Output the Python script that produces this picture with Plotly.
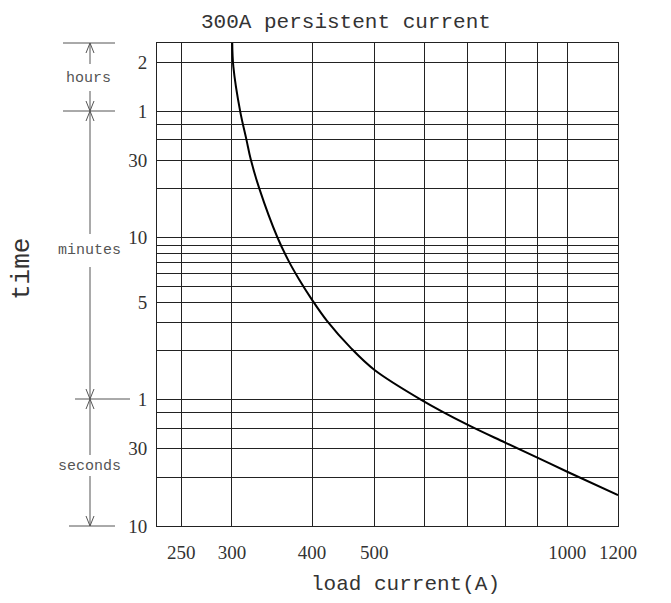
import plotly.graph_objects as go
import math

# ---- data ----
current_a = [300.3, 301.5, 309, 316, 321, 331, 353, 368, 381, 400, 422, 460,
             500, 592, 700, 800, 900, 1000, 1200]
time_s = [9500, 6800, 3600, 2410, 1815, 1203, 605, 428, 336, 248, 184, 125,
          92, 60, 42, 32.7, 26.3, 21.6, 15.5]

x_tick_vals = [250, 300, 400, 500, 1000, 1200]
x_tick_text = ["250", "300", "400", "500", "1000", "1200"]
x_minor_vals = [600, 700, 800, 900]

y_tick_vals = [10, 30, 60, 240, 600, 1800, 3600, 7200]
y_tick_text = ["10", "30", "1", "5", "10", "30", "1", "2"]
y_minor_vals = [20, 40, 50, 120, 180, 300, 360, 420, 480, 540, 1200, 2400, 3000]

# ---- layout geometry (page pixels; page body has an 8px margin) ----
OFF = 8
PL, PR, PT, PB = 157, 618, 43, 526      # plot area edges on the page
FW, FH = 655, 587                       # figure size
ML = PL - OFF
MT = PT - OFF
MR = OFF + FW - PR
MB = OFF + FH - PB
PW = PR - PL
PH = PB - PT


def px(x):
    return (x - PL) / PW


def py(y):
    return (PB - y) / PH


GRID = "#222222"
TXT = "#333333"
DIM = "#555555"
MONO = "Liberation Mono, Courier New, monospace"
SERIF = "Liberation Serif, Times New Roman, serif"

fig = go.Figure()
fig.add_trace(go.Scatter(
    x=current_a, y=time_s, mode="lines",
    line=dict(color="black", width=2, shape="spline", smoothing=1),
    showlegend=False, hoverinfo="skip"))

fig.update_xaxes(
    type="log", range=[math.log10(229.2), math.log10(1200)],
    tickvals=x_tick_vals, ticktext=x_tick_text,
    tickfont=dict(family=SERIF, size=19, color=TXT),
    ticks="outside", ticklen=9, tickcolor="rgba(0,0,0,0)",
    showgrid=True, gridcolor=GRID, gridwidth=1,
    minor=dict(tickvals=x_minor_vals, showgrid=True, gridcolor=GRID,
               gridwidth=1, ticks=""),
    showline=True, linecolor=GRID, linewidth=1, mirror=True, zeroline=False)

fig.update_yaxes(
    type="log", range=[1, 1 + PH / 162.2],
    tickvals=y_tick_vals, ticktext=y_tick_text,
    tickfont=dict(family=SERIF, size=19, color=TXT),
    ticks="outside", ticklen=5, tickcolor="rgba(0,0,0,0)",
    showgrid=True, gridcolor=GRID, gridwidth=1,
    minor=dict(tickvals=y_minor_vals, showgrid=True, gridcolor=GRID,
               gridwidth=1, ticks=""),
    showline=True, linecolor=GRID, linewidth=1, mirror=True, zeroline=False)

shapes = []


def seg(x0, y0, x1, y1):
    shapes.append(dict(type="line", xref="paper", yref="paper",
                       x0=px(x0), y0=py(y0), x1=px(x1), y1=py(y1),
                       line=dict(color=DIM, width=1)))


def arrow(x, y, up):
    d = 10 if up else -10
    shapes.append(dict(type="path", xref="paper", yref="paper",
                       path=f"M {px(x-4)},{py(y+d)} L {px(x)},{py(y)} L {px(x+4)},{py(y+d)}",
                       line=dict(color=DIM, width=1)))


XD = 90
# end bars
seg(63, 43, 115, 43)
seg(63, 111, 115, 111)
seg(75, 399, 130, 399)
seg(69, 526, 115, 526)
# hours
seg(XD, 43, XD, 64); arrow(XD, 43, True)
seg(XD, 91, XD, 111); arrow(XD, 111, False)
# minutes
seg(XD, 111, XD, 234); arrow(XD, 111, True)
seg(XD, 267, XD, 399); arrow(XD, 399, False)
# seconds
seg(XD, 399, XD, 455); arrow(XD, 399, True)
seg(XD, 476, XD, 526); arrow(XD, 526, False)

ann = [
    dict(text="300A persistent current", x=px(346), y=py(22),
         font=dict(family=MONO, size=21, color=TXT)),
    dict(text="time", x=px(22), y=py(269), textangle=-90,
         font=dict(family=MONO, size=26, color=TXT)),
    dict(text="load current(A)", x=px(405), y=py(584),
         font=dict(family=MONO, size=21, color=TXT)),
    dict(text="hours", x=px(88), y=py(78),
         font=dict(family=MONO, size=15, color=DIM)),
    dict(text="minutes", x=px(89), y=py(250),
         font=dict(family=MONO, size=15, color=DIM)),
    dict(text="seconds", x=px(89), y=py(466),
         font=dict(family=MONO, size=15, color=DIM)),
]
for a in ann:
    a.update(xref="paper", yref="paper", showarrow=False,
             xanchor="center", yanchor="middle")

fig.update_layout(
    width=FW, height=FH,
    margin=dict(l=ML, r=MR, t=MT, b=MB, autoexpand=False),
    paper_bgcolor="white", plot_bgcolor="white",
    shapes=shapes, annotations=ann, showlegend=False)

fig.write_html("out.html")
